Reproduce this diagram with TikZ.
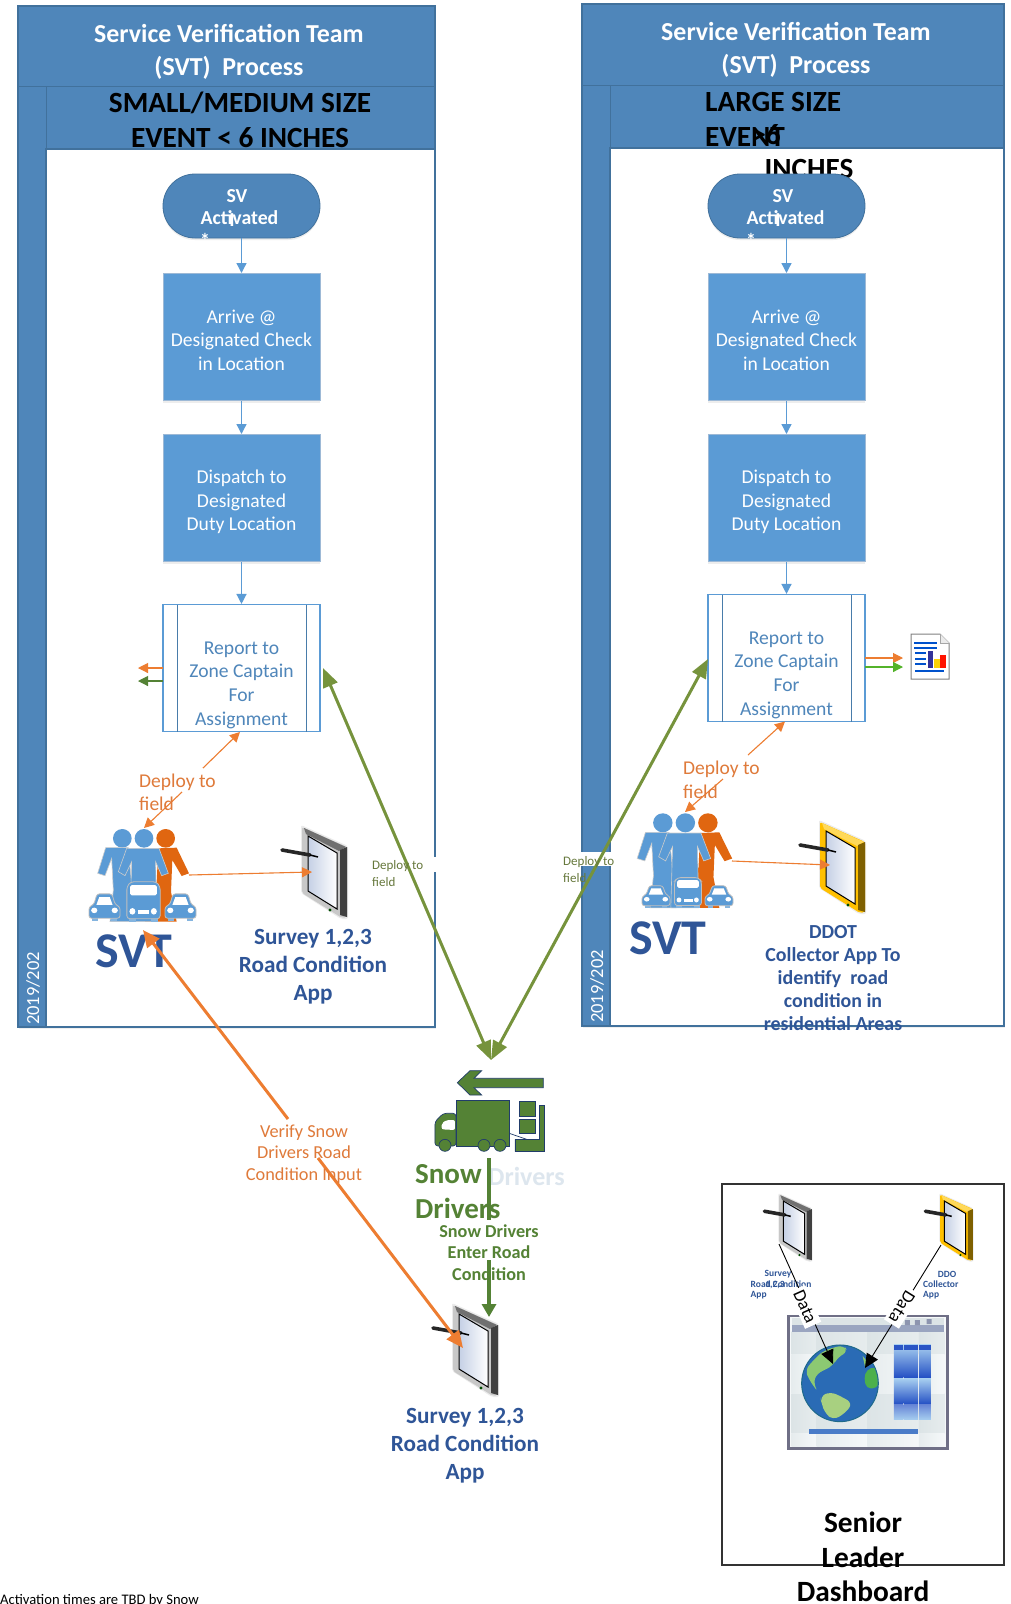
\documentclass[tikz,border=0pt]{standalone}
\usepackage{fontspec}
\setmainfont{Carlito}
\usetikzlibrary{arrows.meta,shapes.misc,shadows}
\definecolor{pool}{HTML}{4F86BA}
\definecolor{poolline}{HTML}{41719C}
\definecolor{boxblue}{HTML}{5B9BD5}
\definecolor{boxline}{HTML}{9DB9D6}
\definecolor{orng}{HTML}{ED7D31}
\definecolor{orngtx}{HTML}{DF7A3A}
\definecolor{olive}{HTML}{76933C}
\definecolor{olivetx}{HTML}{66783C}
\definecolor{snow}{HTML}{548235}
\definecolor{navy}{HTML}{2F5597}
\definecolor{hard}{HTML}{E06610}
\definecolor{screenL}{HTML}{C5D0E5}
\definecolor{graybody}{HTML}{C8C8C8}
\definecolor{graystrip}{HTML}{707070}
\definecolor{grayside}{HTML}{404040}
\definecolor{yelbody}{HTML}{FFC000}
\definecolor{yelstrip}{HTML}{FFD95A}
\definecolor{yelside}{HTML}{7F6000}
\definecolor{frame}{HTML}{6F6F86}
\definecolor{cellD}{HTML}{DCE4E6}
\definecolor{cellL}{HTML}{F5F8F9}
\definecolor{tbar}{HTML}{DCE4E6}
\definecolor{mbar}{HTML}{9AA5C0}
\definecolor{paneT}{HTML}{A8CFF0}
\definecolor{paneB}{HTML}{2450C4}
\definecolor{paneS}{HTML}{2A55C5}
\definecolor{globe}{HTML}{2A6BB5}
\definecolor{globeedge}{HTML}{1F6A8A}
\definecolor{contA}{HTML}{8CC972}
\definecolor{contB}{HTML}{A8D080}
\definecolor{contC}{HTML}{4CB04C}
\definecolor{barblue}{HTML}{4A7CC8}
\definecolor{fadeblue}{HTML}{DDE6EE}
\newcommand{\fsz}[2]{\fontsize{#1}{#2}\selectfont}
\tikzset{
  softshadow/.style={drop shadow={opacity=.14,shadow xshift=0pt,shadow yshift=-2pt}},
  poolbox/.style={draw=poolline,line width=1.2pt,fill=pool},
  poolbody/.style={draw=poolline,line width=1.2pt,fill=white},
  term/.style={rounded rectangle,fill=pool,draw=poolline,line width=.8pt,minimum width=157pt,minimum height=64pt,inner sep=0pt,softshadow},
  actbox/.style={fill=boxblue,draw=boxline,line width=1pt,minimum width=157pt,minimum height=127pt,inner sep=0pt,softshadow},
  boxtx/.style={text=white,align=center,font=\fsz{19.6}{23.5},inner sep=0pt},
  subbox/.style={fill=white,draw=boxblue,line width=1.1pt,minimum width=157pt,minimum height=127pt,inner sep=0pt},
  reptext/.style={text=pool,align=center,font=\fsz{19.6}{23.7},inner sep=0pt},
  flow/.style={draw=boxblue,line width=1.3pt,-{Triangle[length=10pt,width=10pt]}},
  thinorng/.style={draw=orng,line width=1.1pt,-{Triangle[length=10pt,width=10pt]}},
  bigorng/.style={draw=orng,line width=3pt,-{Triangle[length=17pt,width=15pt]}},
  bigolive/.style={draw=olive,line width=3pt,{Triangle[length=19pt,width=15pt]}-{Triangle[length=19pt,width=15pt]}},
  title/.style={text=white,font=\bfseries\fsz{25.9}{32.7},align=center,inner sep=0pt},
  subtitle/.style={text=black,font=\bfseries\fsz{29.3}{35},inner sep=0pt},
  datelbl/.style={text=white,font=\fsz{18.5}{20},rotate=90,inner sep=0pt,anchor=west},
  svtlbl/.style={text=navy,font=\bfseries\fsz{50}{50},inner sep=0pt},
  applbl/.style={text=navy,font=\bfseries\fsz{23.2}{27.8},align=center,inner sep=0pt},
  deploytx/.style={text=orngtx,font=\fsz{19.5}{23.5},align=left,anchor=west,inner sep=0pt},
  smalldep/.style={text=olivetx,font=\fsz{13}{17},align=left,anchor=west,inner sep=0pt},
  tinyapp/.style={text=navy,font=\bfseries\fsz{9.5}{10.5},inner sep=0pt},
  datatx/.style={fill=white,text=black,font=\fsz{18}{18},inner sep=3pt},
  actwhite/.style={text=white,font=\bfseries\fsz{19.8}{22},inner sep=0pt}
}
% tablet: x y scale body side strip
\newcommand{\tabletpic}[6]{%
\begin{scope}[shift={(#1,#2)},x=#3pt,y=-#3pt]
 \fill[black!8,rounded corners=2pt] (-1,0) -- (46,21) -- (46,94) -- (39,94) -- (-1,68) -- cycle;
 \fill[#4,rounded corners=2pt] (0,2) -- (45,22) -- (45,92) -- (40,93) -- (0,68) -- cycle;
 \fill[#6] (2,3) -- (44,22) -- (37,26) -- (4,9) -- cycle;
 \fill[#5] (38,25) -- (45,22) -- (45,92) -- (38,90) -- cycle;
 \shade[left color=screenL,right color=white,draw=black,line width=1pt] (6,11) -- (35,28) -- (35,84) -- (6,66) -- cycle;
 \fill[black!70!green] (28,85) circle[radius=1.6];
 \draw[black!85,line width=3.6pt,line cap=round] (-20,25) -- (8,30);
 \draw[black,line width=1.5pt] (8,30) -- (16,32);
\end{scope}}
\newcommand{\carpic}[4]{%
\begin{scope}[shift={(#1,#2)},x=#3pt,y=-#4pt]
 \fill[boxblue!75] (.1,.85) rectangle (.3,1);
 \fill[boxblue!75] (.7,.85) rectangle (.9,1);
 \filldraw[fill=boxblue,draw=black!25,line width=.8pt,rounded corners=2.5pt] (0,.9) -- (0,.5) -- (.16,.4) -- (.26,.03) -- (.74,.03) -- (.84,.4) -- (1,.5) -- (1,.9) -- cycle;
 \fill[white] (.24,.42) -- (.33,.15) -- (.67,.15) -- (.76,.42) -- cycle;
 \fill[white] (.17,.62) circle[radius=.1];
 \fill[white] (.83,.62) circle[radius=.1];
\end{scope}}
\newcommand{\buspic}[4]{%
\begin{scope}[shift={(#1,#2)},x=#3pt,y=-#4pt]
 \fill[boxblue!75] (.1,.85) rectangle (.3,1);
 \fill[boxblue!75] (.7,.85) rectangle (.9,1);
 \filldraw[fill=boxblue,draw=black!25,line width=.8pt,rounded corners=3pt] (.05,.92) -- (.05,.14) -- (.15,.02) -- (.85,.02) -- (.95,.14) -- (.95,.92) -- cycle;
 \fill[white,rounded corners=1.5pt] (.14,.1) rectangle (.86,.35);
 \fill[white] (.2,.74) circle[radius=.08];
 \fill[white] (.78,.74) circle[radius=.08];
 \fill[white] (.35,.7) rectangle (.65,.8);
\end{scope}}
\newcommand{\peoplepic}[4]{%
\begin{scope}[shift={(#1,#2)},x=#3pt,y=-#4pt]
 \fill[hard] (242,70) circle[radius=28];
 \fill[hard] (220,100) -- (275,98) -- (312,175) -- (290,183) -- (262,135) -- (258,230) -- (275,320) -- (180,320) -- (215,200) -- cycle;
 \fill[boxblue] (112,70) circle[radius=28];
 \filldraw[fill=boxblue,draw=black!20,line width=.6pt] (62,98) -- (130,98) -- (150,320) -- (75,320) -- (85,225) -- (80,130) -- (60,182) -- (38,175) -- cycle;
 \filldraw[fill=boxblue,draw=black!20,line width=.6pt] (125,100) -- (222,100) -- (250,175) -- (230,182) -- (212,140) -- (215,320) -- (135,320) -- (140,140) -- (120,182) -- (100,170) -- cycle;
 \fill[boxblue] (177,70) circle[radius=28];
\end{scope}}
\begin{document}
\begin{tikzpicture}[x=1pt,y=-1pt]
\useasboundingbox (0,0) rectangle (1011,1604);
\fill[white] (0,0) rectangle (1011,1604);

% ---------- left pool
\filldraw[poolbox,drop shadow={opacity=.12,shadow xshift=1pt,shadow yshift=-2pt}] (18,6) rectangle (435,1027);
\filldraw[poolbody] (46,149) rectangle (435,1027);
\draw[poolline,line width=1pt] (18,86) -- (435,86);
\draw[poolline,line width=1pt] (46,86) -- (46,1027);
\node[title] (ltitle) at (229,52) {Service Verification Team\\(SVT)\ \ Process};
\node[subtitle] (lsub1) at (240,103) {SMALL/MEDIUM SIZE};
\node[subtitle] (lsub2) at (240,138) {EVENT < 6 INCHES};
\node[datelbl] (ldate) at (33,1025) {2019/202};

% ---------- right pool
\filldraw[poolbox,drop shadow={opacity=.12,shadow xshift=1pt,shadow yshift=-2pt}] (582,4) rectangle (1004,1026);
\filldraw[poolbody] (610,148) rectangle (1004,1026);
\draw[poolline,line width=1pt] (582,85) -- (1004,85);
\draw[poolline,line width=1pt] (610,85) -- (610,1026);
\node[title] (rtitle) at (796,50) {Service Verification Team\\(SVT)\ \ Process};
\node[subtitle,anchor=west] (rsub1) at (705,102) {LARGE SIZE};
\node[subtitle,anchor=west] (rsub2) at (705,137) {EVENT};
\node[subtitle] (rsub3) at (766,135) {>6};
\node[subtitle] (rsub4) at (809,169) {INCHES};
\node[datelbl] (rdate) at (597,1023) {2019/202};

% ---------- left flow
\node[term] (lt) at (241.5,206) {};
\node[actwhite] at (237,196) {SV};
\node[actwhite] at (239.5,218) {Activated};
\node[actwhite] at (232,220) {I};
\node[actwhite] at (205,240) {*};
\node[actbox] (la) at (241.5,337) {};
\node[boxtx] (lat) at (241.5,340) {Arrive @\\Designated Check\\in Location};
\node[actbox] (lb) at (241.5,498) {};
\node[boxtx] (lbt) at (241.5,502) {Dispatch to\\Designated\\Duty Location};
\node[subbox] (lc) at (241.5,668) {};
\draw[boxblue!80!black,line width=1pt] (177,604.5) -- (177,731.5) (306,604.5) -- (306,731.5);
\node[reptext] (lct) at (241.5,685) {Report to\\Zone Captain\\For\\Assignment};
\draw[flow] (lt) -- (la);
\draw[flow] (la) -- (lb);
\draw[flow] (lb) -- (lc);
\coordinate (lcO) at (163,668);
\coordinate (lcOt) at (138,668);
\coordinate (lcG) at (163,681);
\coordinate (lcGt) at (138,681);
\draw[thinorng] (lcO) -- (lcOt);
\draw[draw=snow,line width=1.1pt,-{Triangle[length=10pt,width=10pt]}] (lcG) -- (lcGt);

% ---------- right flow
\node[term] (rt) at (786.5,206) {};
\node[actwhite] at (783,196) {SV};
\node[actwhite] at (785.5,218) {Activated};
\node[actwhite] at (778,220) {I};
\node[actwhite] at (751,240) {*};
\node[actbox] (ra) at (786.5,337) {};
\node[boxtx] (rat) at (786.5,340) {Arrive @\\Designated Check\\in Location};
\node[actbox] (rb) at (786.5,498) {};
\node[boxtx] (rbt) at (786.5,502) {Dispatch to\\Designated\\Duty Location};
\node[subbox] (rc) at (786.5,658) {};
\draw[boxblue!80!black,line width=1pt] (722,594.5) -- (722,721.5) (851,594.5) -- (851,721.5);
\node[reptext] (rct) at (786.5,675) {Report to\\Zone Captain\\For\\Assignment};
\draw[flow] (rt) -- (ra);
\draw[flow] (ra) -- (rb);
\draw[flow] (rb) -- (rc);

% report icon
\coordinate (rcO) at (865,658);
\coordinate (icoO) at (903,658);
\coordinate (rcG) at (865,667);
\coordinate (icoG) at (903,667);
\draw[thinorng] (rcO) -- (icoO);
\draw[draw=olive!70!green,line width=1.1pt,-{Triangle[length=10pt,width=10pt]}] (rcG) -- (icoG);
\filldraw[fill=white,draw=black!50,line width=1pt] (911,634) -- (940,634) -- (949,643) -- (949,679) -- (911,679) -- cycle;
\filldraw[fill=black!8,draw=black!35,line width=.6pt] (940,634) -- (940,643) -- (949,643);
\draw[blue!60!cyan!80!black,line width=1.3pt] (914,643) -- (937,643) (914,648) -- (937,648) (915,653) -- (926,653) (915,659) -- (926,659) (915,664) -- (926,664) (915,671) -- (944,671);
\fill[blue!50!black!80!white] (928,651) rectangle (933,668);
\fill[yellow!70!orange] (934,659) rectangle (940,668);
\fill[red!85!orange] (940,655) rectangle (946,668);

% ---------- people left
\peoplepic{85}{815}{.3333}{.3333}
\carpic{89}{893}{31}{28}
\buspic{125}{881}{37}{41}
\carpic{165}{893}{31}{28}
\coordinate (lpeople) at (144,828);
\coordinate (lpeopleR) at (189,875);
\coordinate (lsvttip) at (143,930);
\node[svtlbl] (lsvt) at (134,951) {SVT};
\tabletpic{302}{825}{1}{graybody}{grayside}{graystrip}
\coordinate (ltab) at (312,872);
\node[applbl] (lapp) at (313,967) {Survey 1,2,3\\Road Condition\\App};
\draw[thinorng] (lpeopleR) -- (ltab);
\coordinate (lbotmid) at (240,732);
\coordinate (lgapA) at (203,768);
\coordinate (lgapB) at (182,792);
\draw[thinorng] (lgapA) -- (lbotmid);
\draw[thinorng] (lgapB) -- (lpeople);
\node[deploytx] (ldep) at (139,792.5) {Deploy to\\field};

% ---------- people right
\peoplepic{624}{799}{.3467}{.34}
\carpic{642}{885}{28}{23}
\buspic{673}{877}{30}{31}
\carpic{705}{885}{28}{23}
\coordinate (rpeople) at (685,812);
\coordinate (rpeopleR) at (732,861);
\node[svtlbl] (rsvt) at (668,938) {SVT};
\tabletpic{820}{820}{1}{yelbody}{yelside}{yelstrip}
\coordinate (rtab) at (830,865);
\node[text=navy,font=\bfseries\fsz{19.9}{23.2},align=center,inner sep=0pt] (rapp) at (833,978) {DDOT\\Collector App To\\identify\ \ road\\condition in\\residential Areas};
\draw[thinorng] (rpeopleR) -- (rtab);
\coordinate (rbotmid) at (785,721.5);
\coordinate (rgapA) at (748,755);
\coordinate (rgapB) at (723,779);
\draw[thinorng] (rgapA) -- (rbotmid);
\draw[thinorng] (rgapB) -- (rpeople);
\node[deploytx] (rdep) at (683,780) {Deploy to\\field};

% ---------- small labels with white patches
\fill[white] (370,857) rectangle (436,872);
\fill[white] (563,852) rectangle (615,866);
\coordinate (lconv) at (323,668);
\coordinate (conv) at (491,1060);
\coordinate (rconv) at (708,659);
\draw[bigolive] (lconv) -- (conv);
\draw[bigolive] (rconv) -- (conv);
\node[smalldep] (lsmall) at (372,873.5) {Deploy to\\field};
\node[smalldep] (rsmall) at (563,869.5) {Deploy to\\field};

% ---------- truck
\begin{scope}[shift={(380,1040)},x=.3333pt,y=-.3333pt]
 \filldraw[fill=snow,draw=navy!70!black,line width=.7pt] (490,115) -- (282,115) -- (305,92) -- (270,92) -- (232,128) -- (270,165) -- (305,165) -- (282,143) -- (490,143) -- cycle;
 \filldraw[fill=snow,draw=navy!70!black,line width=.7pt,rounded corners=3pt] (228,220) -- (190,220) -- (165,245) -- (165,318) -- (228,318) -- cycle;
 \filldraw[fill=snow,draw=navy!70!black,line width=.7pt] (228,180) rectangle (388,318);
 \fill[white,rounded corners=2pt] (185,268) -- (185,250) -- (200,240) -- (225,240) -- (225,270) -- cycle;
 \filldraw[fill=snow,draw=navy!70!black,line width=.7pt] (195,316) circle[radius=18] (312,316) circle[radius=18] (360,316) circle[radius=18];
 \filldraw[fill=snow,draw=navy!70!black,line width=.7pt] (418,185) rectangle (465,230) (418,237) rectangle (465,280);
 \filldraw[fill=snow,draw=navy!70!black,line width=.7pt] (478,195) -- (492,195) -- (492,335) -- (405,335) -- (405,298) -- (478,298) -- cycle;
 \draw[navy!70!black,line width=.7pt] (388,280) -- (440,298);
\end{scope}
\coordinate (truck) at (489,1158);
\node[text=fadeblue,font=\bfseries\fsz{26}{26},anchor=west,inner sep=0pt] (fade) at (488,1176) {Drivers};
\node[text=snow,font=\bfseries\fsz{29}{35},anchor=west,align=left,inner sep=0pt] (snowdr) at (415,1192) {Snow\\Drivers};
\coordinate (sgapA) at (489,1220);
\coordinate (sgapB) at (489,1260);
\coordinate (btabtop) at (489,1317);
\draw[draw=snow,line width=3.5pt] (truck) -- (sgapA);
\draw[draw=snow,line width=3.5pt,-{Triangle[length=13pt,width=14pt]}] (sgapB) -- (btabtop);
\node[text=snow,font=\bfseries\fsz{18.2}{21.5},align=center,inner sep=0pt] (sdlab) at (489,1252.5) {Snow Drivers\\Enter Road\\Condition};

% ---------- bottom tablet
\tabletpic{453}{1303}{1}{graybody}{grayside}{graystrip}
\coordinate (btab) at (463,1348);
\coordinate (ogapA) at (288,1119);
\coordinate (ogapB) at (318,1158);
\draw[bigorng] (ogapA) -- (lsvttip);
\draw[bigorng] (ogapB) -- (btab);
\node[text=orngtx,font=\fsz{18.3}{21.3},align=center,inner sep=0pt] (olab) at (304,1154) {Verify Snow\\Drivers Road\\Condition Input};
\node[applbl] (bapp) at (465,1445.5) {Survey 1,2,3\\Road Condition\\App};

% ---------- dashboard
\draw[black!80,line width=1.2pt] (722,1184) rectangle (1004,1565);
\tabletpic{779}{1193}{.73}{graybody}{grayside}{graystrip}
\tabletpic{940}{1193}{.73}{yelbody}{yelside}{yelstrip}
\node[tinyapp] (d1a) at (778,1274) {Survey};
\node[tinyapp,anchor=west] (d1b) at (750.5,1284) {Road Condition};
\node[tinyapp] (d1c) at (775,1285) {1,2,3};
\node[tinyapp,anchor=west] (d1d) at (750.5,1295) {App};
\node[tinyapp] (d2a) at (947,1274) {DDO};
\node[tinyapp,anchor=west] (d2b) at (923,1284) {Collector};
\node[tinyapp,anchor=west] (d2d) at (923,1295) {App};
% window
\begin{scope}[shift={(710,1170)},x=.3333pt,y=-.3333pt]
 \fill[cellL] (235,438) rectangle (712,835);
 \foreach \a/\b in {245/320,320/472,472/627,627/703}{
   \foreach \c/\d in {485/555,672/790}{
     \shade[left color=cellD,right color=cellD!60!cellL] (\a,\c) rectangle (\b,\d);}
   \foreach \c/\d in {555/672,790/830}{
     \shade[left color=cellD!60!cellL,right color=cellL] (\a,\c) rectangle (\b,\d);}
 }
 \fill[tbar] (245,445) rectangle (703,465);
 \fill[mbar] (245,465) rectangle (703,485);
 \draw[frame,line width=2.8pt] (235,438) rectangle (712,835);
 \fill[mbar!70!frame] (585,450) rectangle (600,465) (615,450) rectangle (630,465) (650,447) rectangle (665,462);
 % panes
 \foreach \a/\b in {552/580,582/624,627/663}{
   \shade[top color=paneT,bottom color=paneB] (\a,525) rectangle (\b,622);
   \shade[top color=paneT,bottom color=paneB] (\a,625) rectangle (\b,702);
   \shade[top color=paneB!70!white,bottom color=paneT] (\a,703) rectangle (\b,750);
   \fill[paneS] (\a,525) rectangle (\b,540);
 }
 \fill[barblue] (297,777) rectangle (624,792);
 % globe
 \filldraw[fill=globe,draw=globeedge,line width=1pt] (390,640) circle[radius=115];
 \begin{scope}
  \clip (390,640) circle[radius=113];
  \fill[contA,rounded corners=6pt] (285,600) -- (320,560) -- (345,540) -- (400,525) -- (415,545) -- (385,560) -- (370,585) -- (345,600) -- (320,610) -- (310,640) -- (325,668) -- (298,630) -- cycle;
  \fill[contB,rounded corners=6pt] (330,680) -- (360,665) -- (395,680) -- (428,700) -- (405,730) -- (370,750) -- (345,730) -- (335,700) -- cycle;
  \fill[contC,rounded corners=4pt] (470,600) -- (495,590) -- (510,630) -- (500,655) -- (470,655) -- (462,625) -- cycle;
  \fill[contA] (458,558) -- (475,578) -- (465,590) -- cycle;
 \end{scope}
\end{scope}
\coordinate (dt1) at (779,1244);
\coordinate (dg1) at (833,1364);
\coordinate (dt2) at (941,1245);
\coordinate (dg2) at (865,1368);
\draw[black,line width=.9pt,-{Triangle[length=14pt,width=13pt]}] (dt1) -- (dg1);
\draw[black,line width=.9pt,-{Triangle[length=14pt,width=13pt]}] (dt2) -- (dg2);
\node[datatx,rotate=-66] (d1lbl) at (805,1307) {Data};
\node[datatx,rotate=-122] (d2lbl) at (902,1307) {Data};
\node[text=black,font=\bfseries\fsz{29.4}{34.7},align=center,inner sep=0pt] (senior) at (863,1557) {Senior\\Leader\\Dashboard};

\node[text=black,font=\fsz{14.6}{14.6},anchor=west,inner sep=0pt] (note) at (0,1601) {Activation times are TBD by Snow};
\end{tikzpicture}
\end{document}
